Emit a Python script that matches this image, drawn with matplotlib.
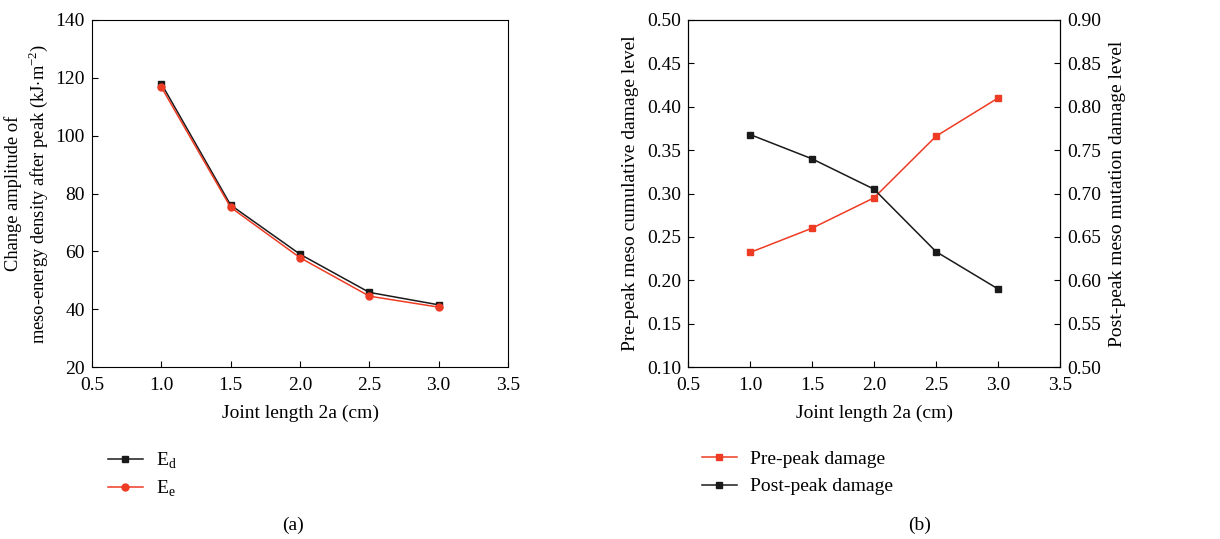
import numpy as np
import matplotlib.pyplot as plt

plt.rcParams['font.family'] = ['Liberation Serif', 'DejaVu Serif']
plt.rcParams['mathtext.fontset'] = 'custom'
plt.rcParams['mathtext.rm'] = 'Liberation Serif'
plt.rcParams['font.size'] = 14

# data
joint_length = [1.0, 1.5, 2.0, 2.5, 3.0]
e_d = [118.0, 76.0, 59.0, 45.8, 41.5]
e_e = [116.8, 75.2, 57.8, 44.5, 40.7]
pre_peak = [0.232, 0.260, 0.295, 0.366, 0.410]
post_peak = [0.768, 0.740, 0.705, 0.633, 0.590]

red = '#ee3b24'
black = '#1a1a1a'

fig = plt.figure(figsize=(12.2, 5.39), dpi=100)

# (a)
ax1 = fig.add_axes([92 / 1220, 1 - 367 / 539, 416 / 1220, 347 / 539])
l1, = ax1.plot(joint_length, e_d, color=black, marker='s', markersize=4.5, lw=1.1)
l2, = ax1.plot(joint_length, e_e, color=red, marker='o', markersize=5, lw=1.1)
ax1.set_xlim(0.5, 3.5)
ax1.set_ylim(20, 140)
ax1.set_xticks(np.arange(0.5, 3.51, 0.5))
ax1.set_yticks(np.arange(20, 141, 20))
ax1.xaxis.set_major_formatter(plt.FormatStrFormatter('%.1f'))
ax1.tick_params(direction='in', length=4)
ax1.tick_params(axis='x', pad=7)
ax1.tick_params(axis='y', pad=5)
ax1.set_xlabel('Joint length 2a (cm)', labelpad=8)
ax1.set_ylabel('Change amplitude of\nmeso-energy density after peak (kJ$\\cdot$m$^{-2}$)',
               labelpad=4, fontsize=13.3, linespacing=1.25)
fig.legend([l1, l2], ['E$_\\mathrm{d}$', 'E$_\\mathrm{e}$'], loc='upper left',
           bbox_to_anchor=(90 / 1220, 1 - 433 / 539), frameon=False,
           handlelength=1.8, handletextpad=0.7, labelspacing=0.4)
fig.text(293 / 1220, 1 - 525 / 539, '(a)', ha='center', va='center')

# (b)
ax2 = fig.add_axes([688 / 1220, 1 - 367 / 539, 372 / 1220, 347 / 539])
ax3 = ax2.twinx()
p1, = ax2.plot(joint_length, pre_peak, color=red, marker='s', markersize=4.5, lw=1.1)
p2, = ax3.plot(joint_length, post_peak, color=black, marker='s', markersize=4.5, lw=1.1)
ax2.set_xlim(0.5, 3.5)
ax2.set_ylim(0.10, 0.50)
ax3.set_ylim(0.50, 0.90)
ax2.set_xticks(np.arange(0.5, 3.51, 0.5))
ax2.set_yticks(np.arange(0.10, 0.501, 0.05))
ax3.set_yticks(np.arange(0.50, 0.901, 0.05))
ax2.xaxis.set_major_formatter(plt.FormatStrFormatter('%.1f'))
ax2.yaxis.set_major_formatter(plt.FormatStrFormatter('%.2f'))
ax3.yaxis.set_major_formatter(plt.FormatStrFormatter('%.2f'))
ax2.tick_params(direction='in', length=4)
ax3.tick_params(direction='in', length=4)
ax2.tick_params(axis='x', pad=7)
ax2.tick_params(axis='y', pad=5)
ax3.tick_params(axis='y', pad=5)
ax2.set_xlabel('Joint length 2a (cm)', labelpad=8)
ax2.set_ylabel('Pre-peak meso cumulative damage level', labelpad=6)
ax3.set_ylabel('Post-peak meso mutation damage level', labelpad=6)
fig.legend([p1, p2], ['Pre-peak damage', 'Post-peak damage'], loc='upper left',
           bbox_to_anchor=(684 / 1220, 1 - 433 / 539), frameon=False,
           handlelength=1.8, handletextpad=0.7, labelspacing=0.5)
fig.text(920 / 1220, 1 - 525 / 539, '(b)', ha='center', va='center')

fig.savefig('out.png', dpi=100)
